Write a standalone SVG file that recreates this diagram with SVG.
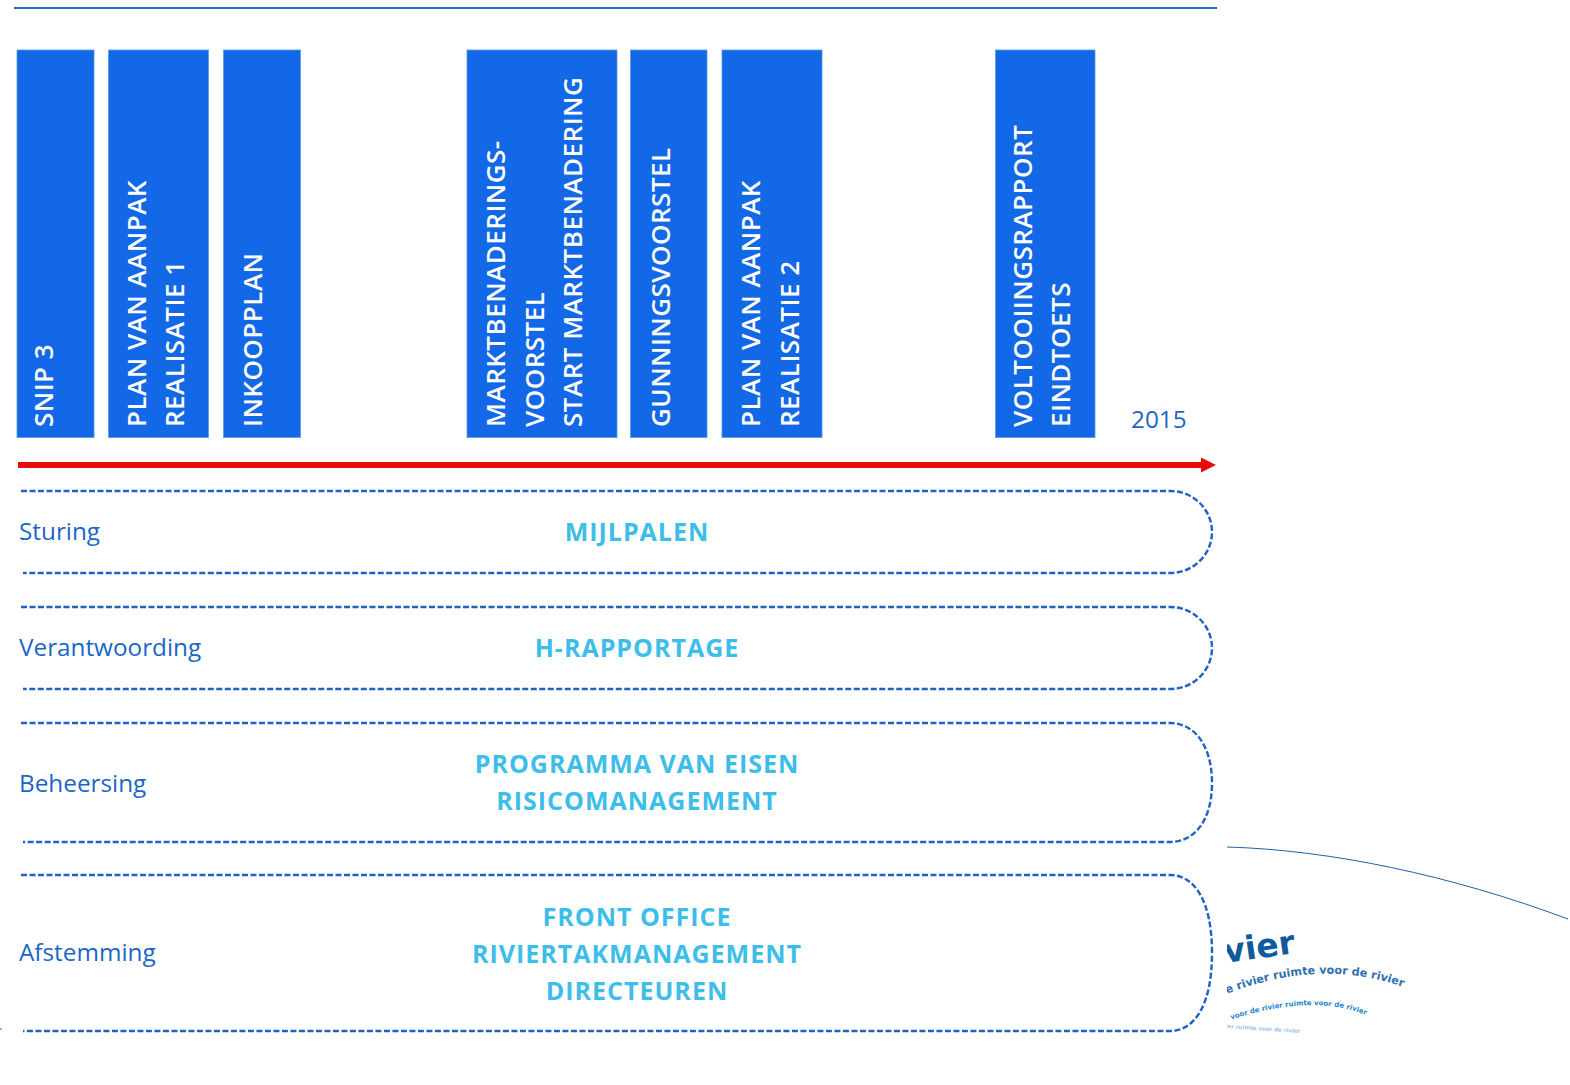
<svg xmlns="http://www.w3.org/2000/svg" width="1570" height="1085" viewBox="0 0 1570 1085">
<style>
.bar{fill:#1268e6;stroke:#5a9ae6;stroke-width:.8}
.bt{font-family:"Open Sans","Noto Sans",sans-serif;font-size:26px;font-weight:600;fill:#fff;letter-spacing:.5px}
.lab{font-family:"Open Sans","Noto Sans",sans-serif;font-size:24.300px;fill:#1a66c8}
.mid{font-family:"Open Sans","Noto Sans",sans-serif;font-size:25px;font-weight:700;fill:#3cbdea;text-anchor:middle;letter-spacing:1px}
.band{fill:none;stroke:#1d62c4;stroke-width:2.400;stroke-dasharray:6 2.5}
.logo{font-family:"DejaVu Sans",sans-serif;font-weight:700}
</style>
<defs>
<marker id="ah" markerUnits="userSpaceOnUse" markerWidth="16" markerHeight="16" refX="0" refY="8" orient="auto"><path d="M0 0.500L15 8L0 15.500Z" fill="#e60a0a"/></marker>
<clipPath id="lc"><rect x="1227" y="830" width="343" height="220"/></clipPath>
<path id="p1" d="M1180 1016Q1300 950 1403 987"/>
<path id="p2" d="M1190 1035Q1300 988 1366 1015"/>
<path id="p3" d="M1200 1026Q1250 1030 1300 1033"/>
</defs>
<g id="top-rule"><line x1="14" y1="8" x2="1217" y2="8" stroke="#1d6fd0" stroke-width="2"/></g>
<g id="n-snip"><rect class="bar" x="17" y="50" width="77" height="387.500"/><text class="bt" transform="translate(53 427) rotate(-90)">SNIP 3</text></g>
<g id="n-pva1"><rect class="bar" x="108.500" y="50" width="100" height="387.500"/><text class="bt" transform="translate(146 427) rotate(-90)">PLAN VAN AANPAK</text><text class="bt" transform="translate(184 427) rotate(-90)">REALISATIE 1</text></g>
<g id="n-inkoop"><rect class="bar" x="223.500" y="50" width="77" height="387.500"/><text class="bt" transform="translate(262 427) rotate(-90)">INKOOPPLAN</text></g>
<g id="n-markt"><rect class="bar" x="467" y="50" width="150" height="387.500"/><text class="bt" transform="translate(505 427) rotate(-90)">MARKTBENADERINGS-</text><text class="bt" transform="translate(544 427) rotate(-90)">VOORSTEL</text><text class="bt" transform="translate(582 427) rotate(-90)">START MARKTBENADERING</text></g>
<g id="n-gunning"><rect class="bar" x="630.500" y="50" width="76.500" height="387.500"/><text class="bt" transform="translate(670 427) rotate(-90)">GUNNINGSVOORSTEL</text></g>
<g id="n-pva2"><rect class="bar" x="722" y="50" width="100" height="387.500"/><text class="bt" transform="translate(760 427) rotate(-90)">PLAN VAN AANPAK</text><text class="bt" transform="translate(799 427) rotate(-90)">REALISATIE 2</text></g>
<g id="n-voltooi"><rect class="bar" x="995.500" y="50" width="99.500" height="387.500"/><text class="bt" transform="translate(1032 427) rotate(-90)">VOLTOOIINGSRAPPORT</text><text class="bt" transform="translate(1070 427) rotate(-90)">EINDTOETS</text></g>
<g id="year"><text class="lab" x="1131" y="428">2015</text></g>
<g id="connectors">
<line x1="18" y1="465" x2="1201" y2="465" stroke="#e60a0a" stroke-width="6" marker-end="url(#ah)"/>
<path class="band" d="M21 491H1170C1194 491 1212 510 1212 532S1194 573 1170 573H23"/>
<path class="band" d="M21 607H1170C1194 607 1212 626 1212 648S1194 689 1170 689H23"/>
<path class="band" d="M21 723H1170C1194 723 1212 745 1212 783S1194 842 1170 842H23"/>
<path class="band" d="M21 875H1170C1194 875 1212 900 1212 953S1194 1031 1170 1031H23"/>
</g>
<g id="n-sturing"><text class="lab" x="19" y="540">Sturing</text><text class="mid" x="637" y="541">MIJLPALEN</text></g>
<g id="n-verantw"><text class="lab" x="19" y="656">Verantwoording</text><text class="mid" x="637" y="657">H-RAPPORTAGE</text></g>
<g id="n-beheers"><text class="lab" x="19" y="792">Beheersing</text><text class="mid" x="637" y="773">PROGRAMMA VAN EISEN</text><text class="mid" x="637" y="810">RISICOMANAGEMENT</text></g>
<g id="n-afstem"><text class="lab" x="19" y="961">Afstemming</text><text class="mid" x="637" y="926">FRONT OFFICE</text><text class="mid" x="637" y="963">RIVIERTAKMANAGEMENT</text><text class="mid" x="637" y="999.500">DIRECTEUREN</text></g>
<g id="logo" clip-path="url(#lc)">
<path d="M1227 847C1330 850 1450 875 1568 919" fill="none" stroke="#1a62a8" stroke-width="1"/>
<text class="logo" font-size="33" fill="#0f5a9e" text-anchor="end" transform="translate(1296 953) rotate(-8)">vier</text>
<text class="logo" font-size="11.200" fill="#2f6fb0" text-anchor="end"><textPath href="#p1" startOffset="100%">de rivier ruimte voor de rivier</textPath></text>
<text class="logo" font-size="7" fill="#1c86d0" text-anchor="end"><textPath href="#p2" startOffset="100%">voor de rivier ruimte voor de rivier</textPath></text>
<text class="logo" font-size="5.500" font-weight="400" fill="#9cc4e8" text-anchor="end"><textPath href="#p3" startOffset="100%">rivier ruimte voor de rivier</textPath></text>
</g>
<g id="edge-tick"><line x1="0" y1="1029" x2="2" y2="1029" stroke="#1d62c4" stroke-width="1"/></g>
</svg>
